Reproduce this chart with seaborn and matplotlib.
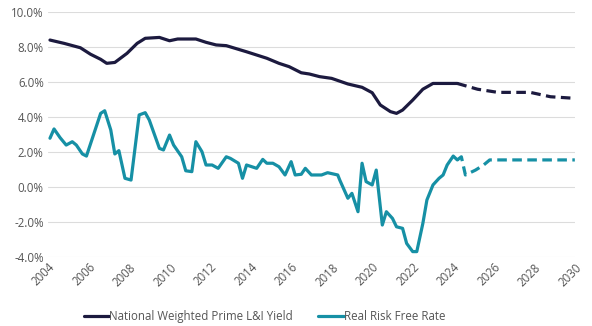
import numpy as np
import pandas as pd
import matplotlib
matplotlib.use("Agg")
import matplotlib.pyplot as plt
import seaborn as sns

# ---- data (decimal years, % values) ----
prime_year = [2004.1, 2004.8, 2005.6, 2006.1, 2006.6, 2006.9, 2007.3, 2007.9, 2008.4, 2008.8,
              2009.5, 2010.0, 2010.4, 2011.3, 2011.8, 2012.3, 2012.8, 2013.8, 2014.8, 2015.4,
              2015.9, 2016.5, 2016.9, 2017.4, 2018.0, 2018.8, 2019.5, 2020.0, 2020.4, 2020.9,
              2021.2, 2021.5, 2022.0, 2022.5, 2023.0, 2023.5, 2024.2]
prime_val = [8.38, 8.19, 7.94, 7.57, 7.28, 7.05, 7.10, 7.62, 8.19, 8.48,
             8.53, 8.34, 8.44, 8.44, 8.25, 8.10, 8.06, 7.71, 7.34, 7.05,
             6.86, 6.51, 6.44, 6.29, 6.19, 5.87, 5.68, 5.37, 4.67, 4.29,
             4.19, 4.38, 4.95, 5.57, 5.90, 5.90, 5.90]
prime_fc_year = [2024.2, 2025.2, 2026.2, 2027.8, 2028.8, 2030.0]
prime_fc_val = [5.90, 5.57, 5.39, 5.39, 5.14, 5.05]

rrf_year = [2004.1, 2004.3, 2004.6, 2004.9, 2005.2, 2005.4, 2005.7, 2005.9, 2006.6, 2006.8,
            2007.1, 2007.3, 2007.5, 2007.8, 2008.1, 2008.5, 2008.8, 2009.0, 2009.5, 2009.7,
            2010.0, 2010.2, 2010.6, 2010.8, 2011.1, 2011.3, 2011.6, 2011.8, 2012.1, 2012.4,
            2012.8, 2013.0, 2013.4, 2013.6, 2013.8, 2014.3, 2014.6, 2014.8, 2015.1, 2015.4,
            2015.7, 2016.0, 2016.2, 2016.5, 2016.7, 2017.0, 2017.5, 2017.8, 2018.3, 2018.4,
            2018.8, 2019.0, 2019.3, 2019.5, 2019.7, 2020.0, 2020.2, 2020.5, 2020.7, 2021.0,
            2021.2, 2021.5, 2021.7, 2022.0, 2022.2, 2022.5, 2022.7, 2023.0, 2023.3, 2023.5,
            2023.7, 2024.0, 2024.2]
rrf_val = [2.77, 3.30, 2.80, 2.38, 2.57, 2.38, 1.87, 1.75, 4.19, 4.34,
           3.24, 1.87, 2.06, 0.48, 0.38, 4.10, 4.23, 3.81, 2.19, 2.10,
           2.95, 2.38, 1.71, 0.91, 0.86, 2.57, 2.00, 1.24, 1.24, 1.05,
           1.71, 1.62, 1.34, 0.48, 1.24, 1.05, 1.56, 1.34, 1.34, 1.14,
           0.67, 1.43, 0.67, 0.71, 1.05, 0.67, 0.67, 0.80, 0.67, 0.38,
           -0.66, -0.38, -1.43, 1.34, 0.29, 0.10, 0.95, -2.19, -1.43, -1.81,
           -2.29, -2.38, -3.24, -3.71, -3.71, -2.10, -0.76, 0.10, 0.48, 0.67,
           1.24, 1.75, 1.53]
rrf_fc_year = [2024.2, 2024.4, 2024.6, 2025.1, 2025.5, 2025.8, 2030.0]
rrf_fc_val = [1.53, 1.71, 0.67, 0.95, 1.24, 1.53, 1.53]

series_names = ["National Weighted Prime L&I Yield", "Real Risk Free Rate"]
year_ticks = list(range(2004, 2031, 2))
y_ticks = [-4, -2, 0, 2, 4, 6, 8, 10]

NAVY = "#1c1a3f"
TEAL = "#1690a5"
GRID = "#dcdcdc"
TXT = "#555555"

sns.set_theme(style="white")
plt.rcParams['font.family'] = ['Open Sans', 'DejaVu Sans']

fig = plt.figure(figsize=(5.92, 3.26), dpi=100)
ax = fig.add_axes([0.081, 0.2126, 0.890, 0.7515])

df_p = pd.DataFrame({"year": prime_year, "val": prime_val})
df_pf = pd.DataFrame({"year": prime_fc_year, "val": prime_fc_val})
df_r = pd.DataFrame({"year": rrf_year, "val": rrf_val})
df_rf = pd.DataFrame({"year": rrf_fc_year, "val": rrf_fc_val})

lw = 2.3
dash = (0, (3.0, 1.7))
sns.lineplot(data=df_p, x="year", y="val", ax=ax, color=NAVY, lw=lw, label=series_names[0], sort=False)
sns.lineplot(data=df_r, x="year", y="val", ax=ax, color=TEAL, lw=lw, label=series_names[1], sort=False)
sns.lineplot(data=df_pf, x="year", y="val", ax=ax, color=NAVY, lw=lw, ls=dash, sort=False)
sns.lineplot(data=df_rf, x="year", y="val", ax=ax, color=TEAL, lw=lw, ls=dash, sort=False)

ax.set_xlim(2004, 2030)
ax.set_ylim(-4, 10)
ax.set_xticks(year_ticks)
ax.set_xticklabels([str(y) for y in year_ticks], rotation=45, ha="right", rotation_mode="anchor")
ax.set_yticks(y_ticks)
ax.set_yticklabels([f"{v:.1f}%" for v in y_ticks])
ax.tick_params(axis="both", labelsize=8.3, colors=TXT, length=0, pad=3)
ax.set_xlabel("")
ax.set_ylabel("")
ax.grid(axis="y", color=GRID, lw=0.8)
ax.grid(axis="x", visible=False)
for s in ax.spines.values():
    s.set_visible(False)

handles, labels = ax.get_legend_handles_labels()
if ax.get_legend() is not None:
    ax.get_legend().remove()
fig.legend(handles[:2], labels[:2], loc="center", bbox_to_anchor=(0.447, 0.03), ncol=2,
           frameon=False, fontsize=8.3, handlelength=2.2, handletextpad=0.0, columnspacing=2.2,
           labelcolor=TXT)

fig.savefig("out.png", dpi=100)
